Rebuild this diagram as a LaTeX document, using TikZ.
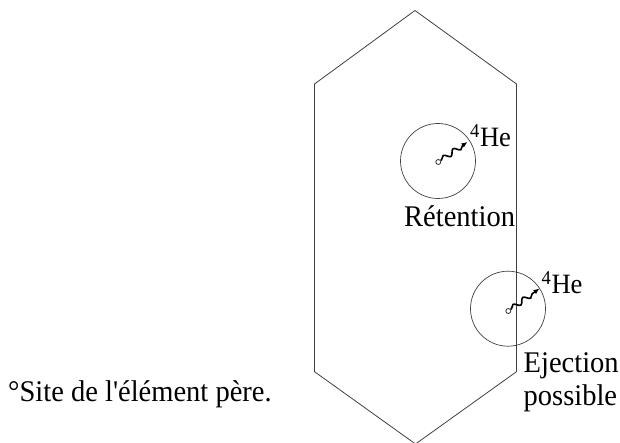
\documentclass[tikz,border=0pt]{standalone}
\usepackage{fontspec}
\setmainfont[FakeStretch=0.95, Ligatures=TeXOff]{Liberation Serif}
\usetikzlibrary{decorations.pathmorphing,arrows.meta}
\begin{document}
\begin{tikzpicture}[x=1pt,y=-1pt,
  line/.style={draw=black!75, line width=0.8pt},
  grain/.style={circle, draw=black!75, line width=0.7pt, minimum size=75pt, inner sep=0pt},
  site/.style={circle, draw=black!80, line width=0.8pt, minimum size=5pt, inner sep=0pt},
  wave/.style={line width=1.6pt, decorate, decoration={snake, amplitude=2.6pt, segment length=12pt, pre length=1pt, post length=5pt}, -{Latex[length=6pt,width=5pt]}},
  lbl/.style={font=\fontsize{30}{33}\selectfont, inner sep=0pt, anchor=base west},
  he/.style={font=\fontsize{28}{30}\selectfont, inner sep=0pt, anchor=base west}]
\useasboundingbox (0,0) rectangle (620,443);
\begin{scope}
\clip (0,0) rectangle (620,443);
\draw[line] (415,10.5) -- (314.5,84) -- (314.5,371.7) -- (415.5,444) -- (516.5,371.7) -- (516.5,84) -- cycle;
\end{scope}
\node[grain] (g1) at (438,161) {};
\node[grain] (g2) at (508,308.7) {};
\node[site] (s1) at (438.3,162) {};
\node[site] (s2) at (508.3,311) {};
\coordinate (t1) at (467.5,142);
\coordinate (t2) at (539.5,288.5);
\draw[wave] (s1) -- (t1);
\draw[wave] (s2) -- (t2);
\node[he] (he1) at (470,147) {\textsuperscript{4}He};
\node[he] (he2) at (541.5,293.5) {\textsuperscript{4}He};
\node[lbl] (ret) at (404,226.7) {Rétention};
\node[lbl] (ej) at (523.5,372.3) {Ejection};
\node[lbl] (pos) at (523.5,405) {possible};
\node[lbl] (site) at (8,401.7) {°Site de l'élément père.};
\end{tikzpicture}
\end{document}
